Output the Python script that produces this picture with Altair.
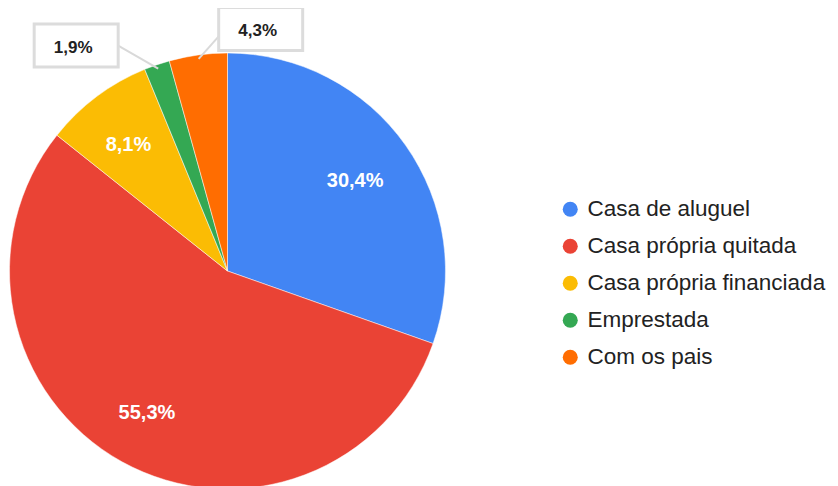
import altair as alt
import pandas as pd

# ---- data ----
categories = ["Casa de aluguel", "Casa própria quitada", "Casa própria financiada", "Emprestada", "Com os pais"]
values = [30.4, 55.3, 8.1, 1.9, 4.3]
labels = ["30,4%", "55,3%", "8,1%", "1,9%", "4,3%"]
colors = ["#4285F4", "#EA4335", "#FBBC04", "#34A853", "#FF6D01"]

# ---- layout ----
W, H = 822, 478
CX, CY, R = 219.5, 263, 218
LABEL_R = 160
ANCHOR_R = 214
# callout layout: leader end offset from anchor, box centre offset from leader end
CALLOUT = {
    "Emprestada": {"lx": -40, "ly": -23, "bx": -42, "by": 0},
    "Com os pais": {"lx": 24, "ly": -27, "bx": 38, "by": -3},
}
BOX_W, BOX_H = 84, 43


def pick(key):
    expr = "0"
    for cat, d in CALLOUT.items():
        expr = f"datum.category == '{cat}' ? {d[key]} : ({expr})"
    return expr


df = pd.DataFrame({
    "category": categories,
    "value": values,
    "label": labels,
    "order": list(range(len(categories))),
})

base = alt.Chart(df)

color = alt.Color(
    "category:N",
    scale=alt.Scale(domain=categories, range=colors),
    sort=categories,
    legend=alt.Legend(
        title=None,
        orient="none",
        legendX=551,
        legendY=190,
        padding=0,
        symbolType="circle",
        symbolSize=225,
        symbolStrokeWidth=0,
        labelFont="Liberation Sans",
        labelFontSize=22.5,
        labelColor="#222222",
        labelOffset=6,
        rowPadding=14,
        labelLimit=400,
    ),
)

pie = base.mark_arc(outerRadius=R, stroke="white", strokeWidth=0.5).encode(
    theta=alt.Theta("value:Q", stack=True),
    color=color,
    order=alt.Order("order:Q"),
    x=alt.value(CX),
    y=alt.value(CY),
)

inner = base.mark_text(
    radius=LABEL_R, font="Liberation Sans", fontSize=20, fontWeight="bold", color="white",
    dx=-3, dy=2,
).encode(
    theta=alt.Theta("value:Q", stack=True),
    detail="category:N",
    order=alt.Order("order:Q"),
    text=alt.condition("datum.value >= 5", "label:N", alt.value("")),
    x=alt.value(CX),
    y=alt.value(CY),
)

callout_base = (
    base.transform_window(cum="sum(value)", sort=[alt.SortField("order")], frame=[None, 0])
    .transform_joinaggregate(total="sum(value)")
    .transform_calculate(mid="(datum.cum - datum.value / 2) / datum.total * 2 * PI")
    .transform_filter("datum.value < 5")
    .transform_calculate(
        ax=f"{CX} + {ANCHOR_R} * sin(datum.mid)",
        ay=f"{CY} - {ANCHOR_R} * cos(datum.mid)",
    )
    .transform_calculate(ex=f"datum.ax + ({pick('lx')})", ey=f"datum.ay + ({pick('ly')})")
    .transform_calculate(bx=f"datum.ex + ({pick('bx')})", by=f"datum.ey + ({pick('by')})")
    .transform_calculate(
        bx1=f"datum.bx - {BOX_W / 2}", bx2=f"datum.bx + {BOX_W / 2}",
        by1=f"datum.by - {BOX_H / 2}", by2=f"datum.by + {BOX_H / 2}",
    )
)

px = dict(scale=None)
leaders = callout_base.mark_rule(color="#d9d9d9", strokeWidth=2).encode(
    x=alt.X("ax:Q", **px), y=alt.Y("ay:Q", **px),
    x2="ex:Q", y2="ey:Q",
)
boxes = callout_base.mark_rect(fill="white", stroke="#dcdcdc", strokeWidth=3).encode(
    x=alt.X("bx1:Q", **px), x2="bx2:Q",
    y=alt.Y("by1:Q", **px), y2="by2:Q",
)
box_text = callout_base.mark_text(
    font="Liberation Sans", fontSize=17, fontWeight="bold", color="#222222", dx=-3, dy=2
).encode(
    x=alt.X("bx:Q", **px), y=alt.Y("by:Q", **px), text="label:N",
)

chart = (
    alt.layer(pie, inner, leaders, boxes, box_text)
    .properties(width=W, height=H, autosize=alt.AutoSizeParams(type="none"), padding=0)
    .configure_view(stroke=None)
)

chart.save("out.html", embed_options={"renderer": "svg", "actions": False})
